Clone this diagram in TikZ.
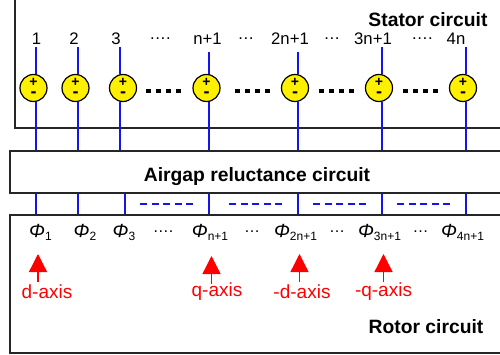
\documentclass[tikz,border=0pt]{standalone}
\usepackage{fontspec}
\setmainfont{Liberation Sans}
\usetikzlibrary{arrows.meta}
\definecolor{srcfill}{RGB}{255, 240, 0}
\definecolor{wireblue}{RGB}{20, 20, 240}
\definecolor{axisred}{RGB}{255, 0, 0}
\newcommand{\fluxlab}[1]{{\fontsize{19}{20}\selectfont\itshape Φ}\raisebox{-3pt}{\fontsize{12}{12}\selectfont #1}}
\newcommand{\srcsigns}{+\\{\fontsize{18}{11}\selectfont -}}
\tikzset{
  % Bloklar
  blockbox/.style  = {draw=black!85, line width=1.4pt, fill=white, inner sep=0pt},
  blocklab/.style  = {font=\fontsize{19.3}{21}\selectfont\bfseries, inner sep=0pt},
  % Manbalar
  srcnode/.style   = {circle, draw=black, fill=srcfill, line width=1.2pt,
                      minimum size=27pt, inner sep=0pt, align=center,
                      font=\fontsize{14}{11}\selectfont\bfseries},
  % Simlar
  wire/.style      = {draw=wireblue, line width=1.3pt},
  wiredash/.style  = {draw=wireblue, line width=1.3pt, dash pattern=on 7pt off 4.5pt},
  rowdots/.style   = {draw=black, line width=3.4pt, dash pattern=on 5pt off 5pt},
  % Etiketlar
  numlab/.style    = {font=\fontsize{16.7}{18}\selectfont, inner sep=0pt},
  fluxnode/.style  = {font=\fontsize{16}{18}\selectfont, inner sep=0pt},
  % O'qlar
  axisarrow/.style = {-{Triangle[length=18pt,width=18pt]}, draw=axisred, fill=axisred, line width=1.3pt},
  axislab/.style   = {font=\fontsize{19}{21}\selectfont, axisred, inner sep=0pt},
}
\begin{document}
\begin{tikzpicture}[x=1pt, y=-1pt]
  \useasboundingbox (0,0) rectangle (500,355);
  % Bloklar
  \node[blockbox, minimum width=520pt, minimum height=148pt] (stator) at (275,54) {};
  \node[blockbox, minimum width=520pt, minimum height=42pt] (airgap) at (270,172) {};
  \node[blockbox, minimum width=520pt, minimum height=138pt] (rotor) at (270,284) {};
  \node[blocklab] (statorlab) at (428,20) {Stator circuit};
  \node[blocklab] (airgaplab) at (257,177) {Airgap reluctance circuit};
  \node[blocklab] (rotorlab) at (426,327) {Rotor circuit};
  % Manbalar
  \node[srcnode] (s1) at (33.5,88) {\srcsigns};
  \node[srcnode] (s2) at (75.5,88) {\srcsigns};
  \node[srcnode] (s3) at (123,88) {\srcsigns};
  \node[srcnode] (s4) at (206.5,88) {\srcsigns};
  \node[srcnode] (s5) at (295,88) {\srcsigns};
  \node[srcnode] (s6) at (379,88) {\srcsigns};
  \node[srcnode] (s7) at (463,88) {\srcsigns};
  % Simlar
  \coordinate (t1) at (36,47);
  \coordinate (t2) at (78,47);
  \coordinate (t3) at (120,47);
  \coordinate (t4) at (209,52);
  \coordinate (t5) at (298,52);
  \coordinate (t6) at (382,47);
  \coordinate (t7) at (466,47);
  \draw[wire] (t1) -- (t1 |- s1.north);
  \draw[wire] (t2) -- (t2 |- s2.north);
  \draw[wire] (t3) -- (t3 |- s3.north);
  \draw[wire] (t4) -- (t4 |- s4.north);
  \draw[wire] (t5) -- (t5 |- s5.north);
  \draw[wire] (t6) -- (t6 |- s6.north);
  \draw[wire] (t7) -- (t7 |- s7.north);
  \draw[wire] (t1 |- s1.south) -- (t1 |- airgap.north);
  \draw[wire] (t2 |- s2.south) -- (t2 |- airgap.north);
  \draw[wire] (t3 |- s3.south) -- (t3 |- airgap.north);
  \draw[wire] (t4 |- s4.south) -- (t4 |- airgap.north);
  \draw[wire] (t5 |- s5.south) -- (t5 |- airgap.north);
  \draw[wire] (t6 |- s6.south) -- (t6 |- airgap.north);
  \draw[wire] (t7 |- s7.south) -- (t7 |- airgap.north);
  % Bo'shliq va rotor orasidagi simlar
  \coordinate (m3) at (125,193);
  \draw[wire] (t1 |- airgap.south) -- (t1 |- rotor.north);
  \draw[wire] (t2 |- airgap.south) -- (t2 |- rotor.north);
  \draw[wire] (m3) -- (m3 |- rotor.north);
  \draw[wire] (t4 |- airgap.south) -- (t4 |- rotor.north);
  \draw[wire] (t5 |- airgap.south) -- (t5 |- rotor.north);
  \draw[wire] (t6 |- airgap.south) -- (t6 |- rotor.north);
  \draw[wire] (t7 |- airgap.south) -- (t7 |- rotor.north);
  \draw[wiredash] (140,204) -- (197,204);
  \draw[wiredash] (229,204) -- (286,204);
  \draw[wiredash] (313,204) -- (370,204);
  \draw[wiredash] (397,204) -- (454,204);
  % Qalin nuqtalar
  \draw[rowdots] (146,91) -- (181,91);
  \draw[rowdots] (235,91) -- (270,91);
  \draw[rowdots] (319,91) -- (354,91);
  \draw[rowdots] (403,91) -- (438,91);
  % Raqamlar
  \node[numlab] at (36.5,39) {1};
  \node[numlab] at (74,39) {2};
  \node[numlab] at (116,39) {3};
  \node[numlab] at (160,39) {….};
  \node[numlab] at (207.5,39) {n+1};
  \node[numlab] at (246,39) {…};
  \node[numlab] at (290,39) {2n+1};
  \node[numlab] at (332,39) {…};
  \node[numlab] at (373,39) {3n+1};
  \node[numlab] at (422,39) {….};
  \node[numlab] at (456,39) {4n};
  % Oqimlar
  \node[fluxnode] at (40.5,232) {\fluxlab{1}};
  \node[fluxnode] at (85,232) {\fluxlab{2}};
  \node[fluxnode] at (124,232) {\fluxlab{3}};
  \node[fluxnode] at (163,232) {….};
  \node[fluxnode] at (210,232) {\fluxlab{n+1}};
  \node[fluxnode] at (252,232) {…};
  \node[fluxnode] at (295.5,232) {\fluxlab{2n+1}};
  \node[fluxnode] at (337,232) {…};
  \node[fluxnode] at (379.5,232) {\fluxlab{3n+1}};
  \node[fluxnode] at (420.5,232) {…};
  \node[fluxnode] at (462.5,232) {\fluxlab{4n+1}};
  % O'qlar
  \node[axislab] (dlab) at (47,292) {d-axis};
  \node[axislab] (qlab) at (217,292) {q-axis};
  \node[axislab] (mdlab) at (302,292) {-d-axis};
  \node[axislab] (mqlab) at (383.5,292) {-q-axis};
  \coordinate (da) at (38,254);
  \coordinate (qa) at (211.5,256);
  \coordinate (mda) at (299.5,254);
  \coordinate (mqa) at (383.5,254);
  \draw[axisarrow] (38,282) -- (da);
  \draw[axisarrow] (211.5,284) -- (qa);
  \draw[axisarrow] (299.5,282) -- (mda);
  \draw[axisarrow] (383.5,282) -- (mqa);
\end{tikzpicture}
\end{document}
